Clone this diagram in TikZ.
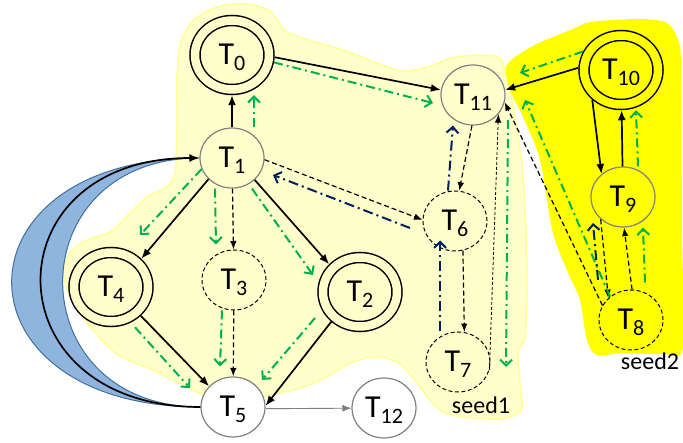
\documentclass[tikz,border=0pt]{standalone}
\usepackage{fontspec}
\setmainfont{Carlito}
\usetikzlibrary{arrows.meta, shapes.geometric, backgrounds, calc}
\definecolor{paleyel}{RGB}{255,255,204}
\definecolor{paleedge}{RGB}{255,255,150}
\definecolor{brightyel}{RGB}{255,255,0}
\definecolor{crescfill}{RGB}{143,180,222}
\definecolor{crescedge}{RGB}{65,113,156}
\definecolor{fwdgreen}{RGB}{0,176,80}
\definecolor{backnavy}{RGB}{0,32,96}
\definecolor{nodegray}{RGB}{128,128,128}
\newcommand{\tname}[1]{T\raisebox{-5.5pt}{\fontsize{22}{22}\selectfont #1}}
\tikzset{
    task/.style={
        ellipse, draw=nodegray, line width=1.2pt,
        minimum width=64pt, minimum height=60pt, inner sep=0pt,
        text height=20pt, text depth=0pt,
        font=\fontsize{32}{32}\selectfont
    },
    seedtask/.style={task, draw=black, line width=1pt, dash pattern=on 4pt off 2.5pt},
    goal/.style={
        task, draw=black, line width=1.5pt,
        double=#1, double distance=8.5pt,
        minimum width=74pt, minimum height=69pt, outer sep=5.75pt
    },
    goal/.default=paleyel,
    dep/.style={-{Latex[length=10pt,width=8pt]}, line width=1.7pt},
    weak/.style={-{Latex[length=8.5pt,width=6.5pt]}, line width=1.2pt, dash pattern=on 5pt off 3pt},
    fwd/.style={-{Straight Barb[length=6pt,width=12pt]}, line width=2pt, draw=fwdgreen,
        dash pattern=on 9pt off 4pt on 2pt off 4pt},
    back/.style={fwd, draw=backnavy, dash pattern=on 10pt off 4pt on 2pt off 4pt},
    outlink/.style={-{Latex[length=9pt,width=7pt]}, line width=0.9pt, draw=nodegray},
    seedlabel/.style={font=\fontsize{24}{24}\selectfont, inner sep=0pt}
}
\begin{document}
\begin{tikzpicture}[x=1pt, y=-1pt]
    \useasboundingbox (0,0) rectangle (683,443);

    \node[goal] (T0) at (232,55) {\tname{0}};
    \node[task] (T1) at (232,158) {\tname{1}};
    \node[goal] (T2) at (360,292) {\tname{2}};
    \node[seedtask] (T3) at (234,280) {\tname{3}};
    \node[goal] (T4) at (111,287) {\tname{4}};
    \node[task, fill=white] (T5) at (233,407) {\tname{5}};
    \node[seedtask] (T6) at (455,221) {\tname{6}};
    \node[seedtask] (T7) at (458,362) {\tname{7}};
    \node[seedtask] (T8) at (631,320) {\tname{8}};
    \node[task] (T9) at (623,197) {\tname{9}};
    \node[goal=brightyel] (T10) at (621,70) {\tname{10}};
    \node[task] (T11) at (473,95) {\tname{11}};
    \node[task, fill=white] (T12) at (384,408) {\tname{12}};
    \node[seedlabel] (seed1) at (481,405) {seed1};
    \node[seedlabel] (seed2) at (650,361) {seed2};

    % shaded regions behind the graph
    \begin{scope}[on background layer]
        \filldraw[draw=paleedge, fill=paleyel, line width=1.5pt]
            plot[smooth cycle, tension=0.5] coordinates {
            (177,130) (177,77) (181,42) (194,20) (217,7) (247,4) (270,11) (284,30)
            (302,38) (343,50) (377,63) (402,71) (427,67) (452,58) (480,55) (500,58)
            (505,72) (512,100) (521,157) (525,210) (527,280) (525,337) (518,352)
            (520,382) (521,410) (500,419) (463,417) (443,412) (430,400) (420,387)
            (400,364) (377,357) (350,363) (327,377) (300,388) (262,397) (233,400)
            (200,393) (157,372) (117,354) (93,330) (73,303) (63,273) (70,253)
            (87,240) (110,232) (130,213) (147,197) (173,180)};
        \fill[brightyel]
            plot[smooth cycle, tension=0.5] coordinates {
            (507,65) (533,46) (573,29) (591,22) (640,19) (667,23) (678,40) (681,67)
            (682,233) (683,347) (663,354) (623,353) (597,355) (587,340) (580,300)
            (570,277) (553,233) (540,160) (523,117) (510,90)};
        \filldraw[draw=crescedge, fill=crescfill, line width=1pt]
            (T5.west) .. controls +(-251,0) and +(-251,0) .. (T1.west)
            .. controls +(-183,0) and +(-183,0) .. (T5.west) -- cycle;
    \end{scope}

    \draw[dep] (T1) -- (T0);
    \draw[dep] (T0.-3) -- (T11.171);
    \draw[dep] (T10.177) -- (T11.9);
    \draw[dep] (T10.226) -- (T9.133);
    \draw[dep] (T9) -- (T10);
    \draw[dep] (T1.222) -- (T4.43);
    \draw[dep] (T1.-44) -- (T2.138);
    \draw[dep] (T4.-44) -- (T5.139);
    \draw[dep] (T2.226) -- (T5.2);
    \draw[dep] (T5.west) .. controls +(-211,0) and +(-211,0) .. (T1.west);
    \draw[outlink] (T5.-3) -- (T12);

    \draw[weak] (T1) -- (T3);
    \draw[weak] (T3) -- (T5);
    \draw[weak] (T1.-3) -- (T6.178);
    \draw[weak] (T11.-92) -- (T6.82);
    \draw[weak] (T6.-75) -- (T7.78);
    \draw[weak, line width=0.8pt, dash pattern=on 3pt off 2pt] (T7.-14) -- (T11.-37);
    \draw[weak] (T8.153) -- (T11.-13);
    \draw[weak] (T9.225) -- (T8.136);
    \draw[weak] (T8.88) -- (T9.-88);

    \draw[fwd] ($(T1.north)+(22,0)$) -- ($(T0.south)+(22,0)$);
    \draw[fwd] (T0.-10) -- ($(T11)+(-40,8)$);
    \draw[fwd] (T10.154) -- ($(T11)+(47,-22)$);
    \draw[fwd] (T8.132) -- ($(T11)+(52,5)$);
    \draw[fwd] ($(T11)+(35,25)$) -- ($(T7)+(48,5)$);
    \draw[fwd] ($(T9.north)+(15,0)$) -- ($(T10.south)+(15,0)$);
    \draw[fwd] ($(T8.north)+(14,-7)$) -- ($(T9.south)+(20,0)$);
    \draw[fwd] (T1.200) -- ($(T4)+(29,-52)$);
    \draw[fwd] ($(T1.south)+(-17,0)$) -- ($(T3.north)+(-18,-5)$);
    \draw[fwd] ($(T1.south)+(20,0)$) -- ($(T2)+(-47,-17)$);
    \draw[fwd] ($(T4.south)+(24,0)$) -- ($(T5)+(-43,-19)$);
    \draw[fwd] ($(T3.south)+(-12,0)$) -- ($(T5.north)+(-13,-10)$);
    \draw[fwd] ($(T2)+(-45,26)$) -- ($(T5)+(29,-27)$);

    \draw[back] ($(T6)+(-45,7)$) -- ($(T1)+(41,17)$);
    \draw[back] ($(T6.north)+(-7,0)$) -- ($(T11.south)+(-20,0)$);
    \draw[back] ($(T7.north)+(-18,0)$) -- ($(T6.south)+(-15,-11)$);
    \draw[back] ($(T8)+(-33,-40)$) -- ($(T9)+(-30,26)$);
\end{tikzpicture}
\end{document}
